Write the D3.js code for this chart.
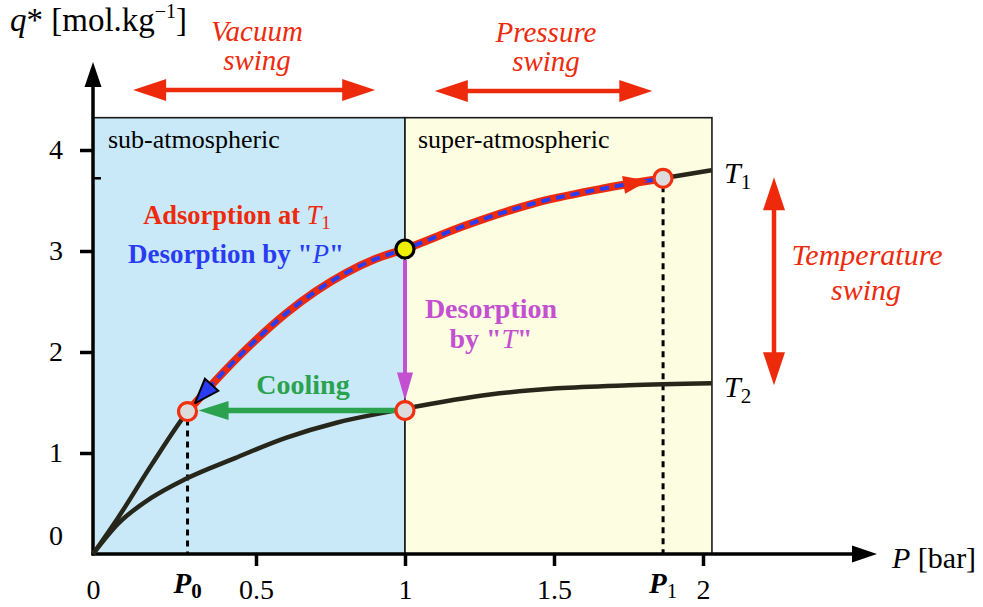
<!DOCTYPE html>
<html><head><meta charset="utf-8">
<script src="https://cdn.jsdelivr.net/npm/d3@7"></script>
<style>
body{margin:0;background:#fff}
svg{display:block}
text{font-family:"Liberation Serif","Times New Roman",serif}
</style></head>
<body><script>
// ---------------- data ----------------
const xTickVals = [0, 0.5, 1, 1.5, 2];
const xTickLabels = ["0", "0.5", "1", "1.5", "2"];
const yTickVals = [0, 1, 2, 3, 4];
const yTickLabels = ["0", "1", "2", "3", "4"];

const P0 = 0.29, P1 = 1.866;
// isotherm T1 (high loading)
const t1P = [0, 0.077, 0.181, 0.29, 0.4, 0.5, 0.6, 0.7, 0.8, 0.9, 1.0, 1.2, 1.43, 1.65, 1.866, 2.03];
const t1Q = [0, 0.36, 0.89, 1.41, 1.80, 2.12, 2.38, 2.60, 2.78, 2.92, 3.02, 3.25, 3.47, 3.61, 3.72, 3.80];
// isotherm T2 (low loading)
const t2P = [0, 0.077, 0.181, 0.282, 0.436, 0.6, 0.77, 0.93, 1.0, 1.285, 1.51, 1.75, 2.03];
const t2Q = [0, 0.30, 0.56, 0.74, 0.95, 1.15, 1.30, 1.40, 1.44, 1.58, 1.64, 1.67, 1.69];

// cycle states
const stateP = [P0, 1, 1, P1];
const stateQ = [1.41, 1.42, 3.02, 3.72];
const stateFill = ["#dcdcdc", "#dcdcdc", "#eef000", "#dcdcdc"];
const stateStroke = ["#f0300f", "#f0300f", "#000", "#f0300f"];

// regions
const regionNames = ["sub-atmospheric", "super-atmospheric"];
const regionFrom = [0, 1];
const regionTo = [1, 2.03];
const regionFill = ["#c9e9f9", "#fdfde1"];
const qTop = 4.32;

// ---------------- setup ----------------
const W = 983, H = 607;
const FONT = '"Liberation Serif","Times New Roman",serif';
const RED = "#ee2a0c", BLUE = "#2a3cf2", GREEN = "#2ba24e", MAG = "#c34fd1", CURVE = "#26261a";

const svg = d3.select("body").append("svg").attr("width", W).attr("height", H);
const x = d3.scaleLinear().domain(xTickVals).range([93, 256, 405, 554, 703]);
const y = d3.scaleLinear().domain([0, 4]).range([554, 150]);

function head(tx, ty, ang, len, hw) {
  const ux = Math.cos(ang), uy = Math.sin(ang);
  const bx = tx - ux * len, by = ty - uy * len;
  return [[tx, ty], [bx - uy * hw, by + ux * hw], [bx + uy * hw, by - ux * hw]];
}
function poly(g, pts, fill, stroke, sw) {
  return g.append("polygon").attr("points", pts.map(p => p.join(",")).join(" "))
    .attr("fill", fill).attr("stroke", stroke || "none").attr("stroke-width", sw || 0)
    .attr("stroke-linejoin", "miter");
}
function arrow(g, x1, y1, x2, y2, len, hw, lw, color, both) {
  const ang = Math.atan2(y2 - y1, x2 - x1), ux = Math.cos(ang), uy = Math.sin(ang);
  const sx = both ? x1 + ux * (len - 2) : x1, sy = both ? y1 + uy * (len - 2) : y1;
  g.append("line").attr("x1", sx).attr("y1", sy)
    .attr("x2", x2 - ux * (len - 2)).attr("y2", y2 - uy * (len - 2))
    .attr("stroke", color).attr("stroke-width", lw);
  poly(g, head(x2, y2, ang, len, hw), color);
  if (both) poly(g, head(x1, y1, ang + Math.PI, len, hw), color);
}

// ---------------- regions ----------------
regionNames.forEach((n, i) => {
  svg.append("rect").attr("x", x(regionFrom[i])).attr("y", y(qTop))
    .attr("width", x(regionTo[i]) - x(regionFrom[i])).attr("height", y(0) - y(qTop))
    .attr("fill", regionFill[i]).attr("stroke", "#1a1a1a").attr("stroke-width", 1.6);
  svg.append("text").attr("x", x(regionFrom[i]) + (i === 0 ? 15 : 13)).attr("y", y(qTop) + 30)
    .attr("font-size", 26).attr("fill", "#000").text(n);
});

// ---------------- axes ----------------
const gx = svg.append("g").attr("transform", `translate(0,${y(0)})`)
  .call(d3.axisBottom(x).tickValues(xTickVals).tickFormat((d, i) => xTickLabels[i]).tickSize(12).tickPadding(13));
gx.attr("font-family", FONT).attr("font-size", 28);
gx.select(".domain").remove();
gx.selectAll(".tick line").attr("stroke", "#000").attr("stroke-width", 3.5).filter(d => d === 0).remove();
gx.selectAll(".tick text").attr("fill", "#000");

const gy = svg.append("g").attr("transform", `translate(${x(0)},0)`)
  .call(d3.axisLeft(y).tickValues(yTickVals).tickFormat((d, i) => yTickLabels[i]).tickSize(13).tickPadding(17));
gy.attr("font-family", FONT).attr("font-size", 28);
gy.select(".domain").remove();
gy.selectAll(".tick line").attr("stroke", "#000").attr("stroke-width", 3.5).filter(d => d === 0).remove();
gy.selectAll(".tick text").attr("fill", "#000").filter(d => d === 0).attr("dy", "-0.35em");

// axis lines with arrow heads
svg.append("line").attr("x1", x(0)).attr("y1", y(0) + 1.5).attr("x2", x(0)).attr("y2", 84)
  .attr("stroke", "#000").attr("stroke-width", 3.5);
poly(svg, head(x(0), 62, -Math.PI / 2, 25, 8.5), "#000");
svg.append("line").attr("x1", x(0) - 1.5).attr("y1", y(0)).attr("x2", 854).attr("y2", y(0))
  .attr("stroke", "#000").attr("stroke-width", 3.5);
poly(svg, head(877, y(0), 0, 25, 8.5), "#000");

// minor mark on the q axis at the P1 loading
svg.append("line").attr("x1", x(0)).attr("x2", x(0) + 8).attr("y1", y(stateQ[3])).attr("y2", y(stateQ[3]))
  .attr("stroke", "#000").attr("stroke-width", 2.5);

// ---------------- guides ----------------
[0, 3].forEach(i => {
  svg.append("line").attr("x1", x(stateP[i])).attr("x2", x(stateP[i]))
    .attr("y1", y(stateQ[i]) + 8).attr("y2", y(0))
    .attr("stroke", "#000").attr("stroke-width", 3).attr("stroke-dasharray", "6,5");
});

// ---------------- isotherms ----------------
const line = d3.line().x(d => x(d[0])).y(d => y(d[1])).curve(d3.curveMonotoneX);
const t1 = t1P.map((p, i) => [p, t1Q[i]]);
const t2 = t2P.map((p, i) => [p, t2Q[i]]);
svg.append("path").attr("d", line(t1)).attr("fill", "none").attr("stroke", CURVE).attr("stroke-width", 4.5);
svg.append("path").attr("d", line(t2)).attr("fill", "none").attr("stroke", CURVE).attr("stroke-width", 4.5);

// adsorption / desorption path along T1 between P0 and P1
const seg = t1.slice(t1P.indexOf(P0), t1P.indexOf(P1) + 1);
const redPath = svg.append("path").attr("d", line(seg)).attr("fill", "none")
  .attr("stroke", RED).attr("stroke-width", 8);
svg.append("path").attr("d", line(seg)).attr("fill", "none")
  .attr("stroke", BLUE).attr("stroke-width", 4).attr("stroke-dasharray", "9,6");

const node = redPath.node(), L = node.getTotalLength();
{ // red arrow head towards P1
  const tip = node.getPointAtLength(L - 15), base = node.getPointAtLength(L - 40);
  poly(svg, head(tip.x, tip.y, Math.atan2(tip.y - base.y, tip.x - base.x), 25, 9), RED);
}
{ // blue arrow head towards P0
  const tip = node.getPointAtLength(11), base = node.getPointAtLength(36);
  poly(svg, head(tip.x, tip.y, Math.atan2(tip.y - base.y, tip.x - base.x), 25, 9), BLUE, "#000", 2);
}

// desorption by T (vertical) and cooling (horizontal)
arrow(svg, x(1), y(stateQ[2]) + 11, x(1), y(stateQ[1]) - 10, 28, 8, 4, MAG, false);
arrow(svg, x(1) - 10, y(stateQ[1]), x(P0) + 11, y(stateQ[1]), 30, 9.5, 5.5, GREEN, false);

// state points
stateP.forEach((p, i) => {
  svg.append("circle").attr("cx", x(p)).attr("cy", y(stateQ[i])).attr("r", 9)
    .attr("fill", stateFill[i]).attr("stroke", stateStroke[i]).attr("stroke-width", 3.2);
});

// ---------------- swing arrows ----------------
arrow(svg, x(0.123), 90, x(0.9), 90, 33, 11, 4.5, RED, true);
arrow(svg, x(1.1), 91, x(1.83), 91, 33, 11, 4.5, RED, true);
arrow(svg, 774, y(stateQ[3]) - 1, 774, y(1.67), 33, 11, 4.5, RED, true);

// ---------------- texts ----------------
function txt(xp, yp, size, color, anchor, parts, weight) {
  const t = svg.append("text").attr("x", xp).attr("y", yp).attr("font-size", size)
    .attr("fill", color).attr("text-anchor", anchor || "start").attr("font-weight", weight || "normal");
  parts.forEach(p => {
    const s = t.append("tspan").text(p.t);
    if (p.i) s.attr("font-style", "italic");
    if (p.s) s.attr("font-size", p.s);
    if (p.dy) s.attr("dy", p.dy);
    if (p.w) s.attr("font-weight", p.w);
  });
  return t;
}
// y title
txt(10, 31, 33, "#000", "start", [{t: "q", i: 1}, {t: "* [mol.kg"}, {t: "\u22121", s: 20, dy: -13}, {t: "]", s: 33, dy: 13}]);
// x title
txt(892, 568, 30, "#000", "start", [{t: "P", i: 1}, {t: " [bar]"}]);

// swing labels
txt(257, 41, 29, RED, "middle", [{t: "Vacuum", i: 1}]);
txt(257, 70, 29, RED, "middle", [{t: "swing", i: 1}]);
txt(546, 42, 29, RED, "middle", [{t: "Pressure", i: 1}]);
txt(546, 71, 29, RED, "middle", [{t: "swing", i: 1}]);
txt(867, 265, 30, RED, "middle", [{t: "Temperature", i: 1}]);
txt(866, 300, 30, RED, "middle", [{t: "swing", i: 1}]);

// isotherm labels
txt(724, 183, 30, "#000", "start", [{t: "T", i: 1}, {t: "1", s: 21, dy: 6}]);
txt(724, 397, 30, "#000", "start", [{t: "T", i: 1}, {t: "2", s: 21, dy: 6}]);

// P0 / P1 axis labels
txt(x(P0), 593, 29, "#000", "middle", [{t: "P", i: 1}, {t: "0", s: 21, dy: 5}], "bold");
txt(x(P1), 593, 29, "#000", "middle", [{t: "P", i: 1}, {t: "1", s: 21, dy: 5, w: "normal"}], "bold");

// process labels
txt(237, 224, 26.5, RED, "middle", [{t: "Adsorption at "}, {t: "T", i: 1, w: "normal"}, {t: "1", s: 19, dy: 5, w: "normal"}], "bold");
txt(236, 263, 27, BLUE, "middle", [{t: "Desorption by \""}, {t: "P", i: 1, w: "normal"}, {t: "\""}], "bold");
txt(303, 394, 28, GREEN, "middle", [{t: "Cooling"}], "bold");
txt(491, 318, 28, MAG, "middle", [{t: "Desorption"}], "bold");
txt(491, 348, 28, MAG, "middle", [{t: "by \""}, {t: "T", i: 1, w: "normal"}, {t: "\""}], "bold");
</script></body></html>
